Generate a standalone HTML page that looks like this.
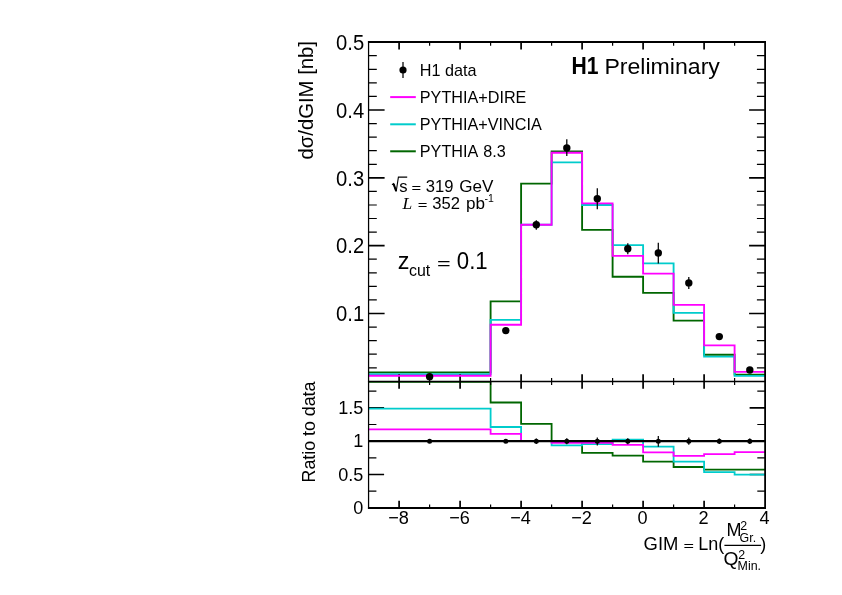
<!DOCTYPE html>
<html lang="en"><head><meta charset="utf-8"><title>H1 Preliminary - GIM</title>
<style>html,body{margin:0;padding:0;background:#fff}svg{display:block}text{font-family:"Liberation Sans",Arial,Helvetica,sans-serif;fill:#000}</style>
</head><body>
<svg width="842" height="595" viewBox="0 0 842 595">
<rect width="842" height="595" fill="#fff"/>
<g fill="none" stroke-width="1.85" stroke-linejoin="miter">
<path d="M368.6,372.3 L490.6,372.3 L490.6,301.4 L521.1,301.4 L521.1,183.6 L551.6,183.6 L551.6,151.3 L582.1,151.3 L582.1,229.8 L612.6,229.8 L612.6,276.7 L643.1,276.7 L643.1,292.8 L673.6,292.8 L673.6,320.6 L704.1,320.6 L704.1,354.7 L734.6,354.7 L734.6,374.6 L765.1,374.6" stroke="#006600"/>
<path d="M368.6,374.1 L490.6,374.1 L490.6,319.9 L521.1,319.9 L521.1,224.7 L551.6,224.7 L551.6,162.3 L582.1,162.3 L582.1,205.0 L612.6,205.0 L612.6,245.1 L643.1,245.1 L643.1,263.3 L673.6,263.3 L673.6,312.8 L704.1,312.8 L704.1,356.6 L734.6,356.6 L734.6,375.9 L765.1,375.9" stroke="#00cccc"/>
<path d="M399.1,42.0 L399.1,49.6 M399.1,374.3 L399.1,381.5 M460.1,42.0 L460.1,49.6 M460.1,374.3 L460.1,381.5 M521.1,42.0 L521.1,49.6 M521.1,374.3 L521.1,381.5 M582.1,42.0 L582.1,49.6 M582.1,374.3 L582.1,381.5 M643.1,42.0 L643.1,49.6 M643.1,374.3 L643.1,381.5 M704.1,42.0 L704.1,49.6 M704.1,374.3 L704.1,381.5 M368.6,313.5 L384.6,313.5 M749.1,313.5 L765.1,313.5 M368.6,245.7 L384.6,245.7 M749.1,245.7 L765.1,245.7 M368.6,177.8 L384.6,177.8 M749.1,177.8 L765.1,177.8 M368.6,110.0 L384.6,110.0 M749.1,110.0 L765.1,110.0" stroke="#000" stroke-width="1.7" fill="none"/><path d="M429.6,42.0 L429.6,45.8 M429.6,378.1 L429.6,381.5 M490.6,42.0 L490.6,45.8 M490.6,378.1 L490.6,381.5 M551.6,42.0 L551.6,45.8 M551.6,378.1 L551.6,381.5 M612.6,42.0 L612.6,45.8 M612.6,378.1 L612.6,381.5 M673.6,42.0 L673.6,45.8 M673.6,378.1 L673.6,381.5 M734.6,42.0 L734.6,45.8 M734.6,378.1 L734.6,381.5 M368.6,367.8 L376.8,367.8 M756.9,367.8 L765.1,367.8 M368.6,354.2 L376.8,354.2 M756.9,354.2 L765.1,354.2 M368.6,340.6 L376.8,340.6 M756.9,340.6 L765.1,340.6 M368.6,327.1 L376.8,327.1 M756.9,327.1 L765.1,327.1 M368.6,299.9 L376.8,299.9 M756.9,299.9 L765.1,299.9 M368.6,286.4 L376.8,286.4 M756.9,286.4 L765.1,286.4 M368.6,272.8 L376.8,272.8 M756.9,272.8 L765.1,272.8 M368.6,259.2 L376.8,259.2 M756.9,259.2 L765.1,259.2 M368.6,232.1 L376.8,232.1 M756.9,232.1 L765.1,232.1 M368.6,218.5 L376.8,218.5 M756.9,218.5 L765.1,218.5 M368.6,205.0 L376.8,205.0 M756.9,205.0 L765.1,205.0 M368.6,191.4 L376.8,191.4 M756.9,191.4 L765.1,191.4 M368.6,164.3 L376.8,164.3 M756.9,164.3 L765.1,164.3 M368.6,150.7 L376.8,150.7 M756.9,150.7 L765.1,150.7 M368.6,137.1 L376.8,137.1 M756.9,137.1 L765.1,137.1 M368.6,123.6 L376.8,123.6 M756.9,123.6 L765.1,123.6 M368.6,96.4 L376.8,96.4 M756.9,96.4 L765.1,96.4 M368.6,82.9 L376.8,82.9 M756.9,82.9 L765.1,82.9 M368.6,69.3 L376.8,69.3 M756.9,69.3 L765.1,69.3 M368.6,55.7 L376.8,55.7 M756.9,55.7 L765.1,55.7" stroke="#000" stroke-width="1.2" fill="none"/>
<path d="M368.6,375.7 L490.6,375.7 L490.6,324.7 L521.1,324.7 L521.1,224.7 L551.6,224.7 L551.6,152.7 L582.1,152.7 L582.1,203.4 L612.6,203.4 L612.6,255.8 L643.1,255.8 L643.1,273.6 L673.6,273.6 L673.6,304.8 L704.1,304.8 L704.1,345.3 L734.6,345.3 L734.6,371.8 L765.1,371.8" stroke="#ff00ff"/>
</g>
<clipPath id="lc"><rect x="368.6" y="381.5" width="396.5" height="126.5"/></clipPath>
<path d="M368.6,474.5 L384.1,474.5 M749.6,474.5 L765.1,474.5 M368.6,441.2 L384.1,441.2 M749.6,441.2 L765.1,441.2 M368.6,407.8 L384.1,407.8 M749.6,407.8 L765.1,407.8" stroke="#000" stroke-width="1.7" fill="none"/><path d="M368.6,491.2 L376.4,491.2 M757.3,491.2 L765.1,491.2 M368.6,457.9 L376.4,457.9 M757.3,457.9 L765.1,457.9 M368.6,424.5 L376.4,424.5 M757.3,424.5 L765.1,424.5 M368.6,391.2 L376.4,391.2 M757.3,391.2 L765.1,391.2" stroke="#000" stroke-width="1.2" fill="none"/>
<g fill="none" stroke-width="1.8" clip-path="url(#lc)">
<path d="M368.6,381.8 L490.6,381.8 L490.6,402.5 L521.1,402.5 L521.1,423.8 L551.6,423.8 L551.6,441.2 L582.1,441.2 L582.1,452.8 L612.6,452.8 L612.6,455.6 L643.1,455.6 L643.1,461.7 L673.6,461.7 L673.6,467.0 L704.1,467.0 L704.1,469.6 L734.6,469.6 L734.6,469.6 L765.1,469.6" stroke="#006600"/>
<path d="M368.6,408.6 L490.6,408.6 L490.6,427.0 L521.1,427.0 L521.1,441.0 L551.6,441.0 L551.6,445.4 L582.1,445.4 L582.1,444.2 L612.6,444.2 L612.6,439.7 L643.1,439.7 L643.1,446.7 L673.6,446.7 L673.6,461.7 L704.1,461.7 L704.1,472.2 L734.6,472.2 L734.6,474.7 L765.1,474.7" stroke="#00cccc"/>
<path d="M368.6,429.4 L490.6,429.4 L490.6,433.8 L521.1,433.8 L521.1,441.2 L551.6,441.2 L551.6,442.8 L582.1,442.8 L582.1,442.8 L612.6,442.8 L612.6,444.9 L643.1,444.9 L643.1,452.3 L673.6,452.3 L673.6,455.9 L704.1,455.9 L704.1,454.2 L734.6,454.2 L734.6,452.1 L765.1,452.1" stroke="#ff00ff"/>
</g>
<path d="M399.1,381.5 L399.1,388.7 M399.1,500.8 L399.1,508.0 M460.1,381.5 L460.1,388.7 M460.1,500.8 L460.1,508.0 M521.1,381.5 L521.1,388.7 M521.1,500.8 L521.1,508.0 M582.1,381.5 L582.1,388.7 M582.1,500.8 L582.1,508.0 M643.1,381.5 L643.1,388.7 M643.1,500.8 L643.1,508.0 M704.1,381.5 L704.1,388.7 M704.1,500.8 L704.1,508.0" stroke="#000" stroke-width="1.7" fill="none"/><path d="M429.6,381.5 L429.6,384.9 M429.6,504.6 L429.6,508.0 M490.6,381.5 L490.6,384.9 M490.6,504.6 L490.6,508.0 M551.6,381.5 L551.6,384.9 M551.6,504.6 L551.6,508.0 M612.6,381.5 L612.6,384.9 M612.6,504.6 L612.6,508.0 M673.6,381.5 L673.6,384.9 M673.6,504.6 L673.6,508.0 M734.6,381.5 L734.6,384.9 M734.6,504.6 L734.6,508.0" stroke="#000" stroke-width="1.2" fill="none"/>
<line x1="368.6" y1="441.2" x2="765.1" y2="441.2" stroke="#000" stroke-width="2.2"/>
<g stroke="#000" fill="none">
<line x1="368.57" y1="41" x2="368.57" y2="509" stroke-width="1.25"/>
<line x1="765.10" y1="41" x2="765.10" y2="509" stroke-width="1.8"/>
<line x1="367.95" y1="41.95" x2="766" y2="41.95" stroke-width="1.85"/>
<line x1="367.95" y1="508.00" x2="766" y2="508.00" stroke-width="1.9"/>
<line x1="367.95" y1="381.50" x2="766" y2="381.50" stroke-width="1.4"/>
</g>
<g stroke="#000" stroke-width="1.25" fill="#000">
<line x1="536.3" y1="220.2" x2="536.3" y2="229.8"/>
<line x1="566.8" y1="139.2" x2="566.8" y2="155.9"/>
<line x1="597.3" y1="188.2" x2="597.3" y2="209.2"/>
<line x1="627.8" y1="243.2" x2="627.8" y2="254.3"/>
<line x1="658.3" y1="242.8" x2="658.3" y2="263.5"/>
<line x1="688.8" y1="277.0" x2="688.8" y2="288.9"/>
<circle cx="429.6" cy="376.7" r="3.7" stroke="none"/>
<circle cx="505.8" cy="330.6" r="3.7" stroke="none"/>
<circle cx="536.3" cy="224.7" r="3.7" stroke="none"/>
<circle cx="566.8" cy="147.9" r="3.7" stroke="none"/>
<circle cx="597.3" cy="198.8" r="3.7" stroke="none"/>
<circle cx="627.8" cy="248.8" r="3.7" stroke="none"/>
<circle cx="658.3" cy="253.0" r="3.7" stroke="none"/>
<circle cx="688.8" cy="282.9" r="3.7" stroke="none"/>
<circle cx="719.3" cy="336.6" r="3.7" stroke="none"/>
<circle cx="749.8" cy="370.0" r="3.7" stroke="none"/>
<circle cx="429.6" cy="441.2" r="2.5" stroke="none"/>
<circle cx="505.8" cy="441.2" r="2.5" stroke="none"/>
<line x1="536.3" y1="438.4" x2="536.3" y2="444.0" stroke-width="1.2"/>
<circle cx="536.3" cy="441.2" r="2.5" stroke="none"/>
<line x1="566.8" y1="438.2" x2="566.8" y2="444.2" stroke-width="1.2"/>
<circle cx="566.8" cy="441.2" r="2.5" stroke="none"/>
<line x1="597.3" y1="437.4" x2="597.3" y2="445.6" stroke-width="1.2"/>
<circle cx="597.3" cy="441.2" r="2.5" stroke="none"/>
<line x1="627.8" y1="438.2" x2="627.8" y2="444.2" stroke-width="1.2"/>
<circle cx="627.8" cy="441.2" r="2.5" stroke="none"/>
<line x1="658.3" y1="436.0" x2="658.3" y2="446.8" stroke-width="1.2"/>
<circle cx="658.3" cy="441.2" r="2.5" stroke="none"/>
<line x1="688.8" y1="437.6" x2="688.8" y2="444.8" stroke-width="1.2"/>
<circle cx="688.8" cy="441.2" r="2.5" stroke="none"/>
<line x1="719.3" y1="438.4" x2="719.3" y2="444.0" stroke-width="1.2"/>
<circle cx="719.3" cy="441.2" r="2.5" stroke="none"/>
<line x1="749.8" y1="438.4" x2="749.8" y2="444.0" stroke-width="1.2"/>
<circle cx="749.8" cy="441.2" r="2.5" stroke="none"/>
</g>
<text transform="translate(364.2,49.9) scale(0.940,1.000)" font-size="21.5px" text-anchor="end">0.5</text>
<text transform="translate(364.2,117.7) scale(0.940,1.000)" font-size="21.5px" text-anchor="end">0.4</text>
<text transform="translate(364.2,185.5) scale(0.940,1.000)" font-size="21.5px" text-anchor="end">0.3</text>
<text transform="translate(364.2,253.4) scale(0.940,1.000)" font-size="21.5px" text-anchor="end">0.2</text>
<text transform="translate(364.2,321.2) scale(0.940,1.000)" font-size="21.5px" text-anchor="end">0.1</text>
<text transform="translate(363.3,414.0) scale(0.950,1.000)" font-size="19.0px" text-anchor="end">1.5</text>
<text transform="translate(363.3,447.4) scale(0.950,1.000)" font-size="19.0px" text-anchor="end">1</text>
<text transform="translate(363.3,480.7) scale(0.950,1.000)" font-size="19.0px" text-anchor="end">0.5</text>
<text transform="translate(363.3,514.1) scale(0.950,1.000)" font-size="19.0px" text-anchor="end">0</text>
<text transform="translate(398.5,524.2) scale(0.960,1.000)" font-size="18.9px" text-anchor="middle">−8</text>
<text transform="translate(459.5,524.2) scale(0.960,1.000)" font-size="18.9px" text-anchor="middle">−6</text>
<text transform="translate(520.5,524.2) scale(0.960,1.000)" font-size="18.9px" text-anchor="middle">−4</text>
<text transform="translate(581.5,524.2) scale(0.960,1.000)" font-size="18.9px" text-anchor="middle">−2</text>
<text transform="translate(642.5,524.2) scale(0.960,1.000)" font-size="18.9px" text-anchor="middle">0</text>
<text transform="translate(703.5,524.2) scale(0.960,1.000)" font-size="18.9px" text-anchor="middle">2</text>
<text transform="translate(764.5,524.2) scale(0.960,1.000)" font-size="18.9px" text-anchor="middle">4</text>
<text font-size="20.6px" text-anchor="end" transform="translate(312.9,41.0) rotate(-90) scale(0.985,1)">dσ/dGIM [nb]</text>
<text font-size="18.6px" text-anchor="end" transform="translate(314.5,381.6) rotate(-90) scale(0.957,1)">Ratio to data</text>
<g stroke="#000" fill="#000"><line x1="403" y1="61.9" x2="403" y2="77.9" stroke-width="1.25"/><circle cx="403" cy="70" r="3.6" stroke="none"/></g>
<g stroke-width="2" fill="none"><line x1="390.2" y1="97.1" x2="415.8" y2="97.1" stroke="#ff00ff"/><line x1="390.2" y1="124.3" x2="415.8" y2="124.3" stroke="#00cccc"/><line x1="390.2" y1="151.3" x2="415.8" y2="151.3" stroke="#006600"/></g>
<g font-size="16.2px">
<text x="419.8" y="75.8">H1 data</text>
<text x="419.8" y="102.9">PYTHIA+DIRE</text>
<text x="419.8" y="130.1">PYTHIA+VINCIA</text>
<text x="419.8" y="157.1" word-spacing="1.4px">PYTHIA 8.3</text>
</g>
<text transform="translate(571.6,74.2) scale(0.920,1.000)" font-size="23.0px" font-weight="bold">H1</text>
<text transform="translate(604.4,74.2) scale(1.018,1.000)" font-size="22.7px">Preliminary</text>
<path d="M392.0,184.8 L393.5,183.7 L396.2,191.5 L398.4,177.1 L407.2,177.1" stroke="#000" stroke-width="1.1" fill="none"/>
<path d="M393.6,183.9 L396.1,191.0" stroke="#000" stroke-width="2" fill="none"/>
<text x="399.3" y="191.6" font-size="16.6px">s</text>
<text transform="translate(411.4,191.7) scale(1.000,0.720)" font-size="16.6px">=</text>
<text x="425.8" y="191.6" font-size="16.6px">319</text>
<text transform="translate(459.2,191.6) scale(1.030,1.000)" font-size="16.6px">GeV</text>
<text x="402.4" y="208.6" style="font-family:'Liberation Serif','Times New Roman',serif;font-style:italic;font-size:17.5px">L</text>
<text transform="translate(417.7,208.7) scale(1.000,0.720)" font-size="16.6px">=</text>
<text x="432.2" y="208.6" font-size="16.6px">352</text>
<text transform="translate(466.0,208.6) scale(1.030,1.000)" font-size="16.6px">pb</text>
<text x="484.6" y="201.9" font-size="10.5px">-1</text>
<text x="397.8" y="268.9" font-size="23.4px">z</text>
<text transform="translate(409.0,275.6) scale(0.985,1.000)" font-size="16.2px">cut</text>
<text transform="translate(437.0,269.0) scale(1.000,0.680)" font-size="23.4px">=</text>
<text transform="translate(456.8,268.9) scale(0.950,1.000)" font-size="23.4px">0.1</text>
<g font-size="18px">
<text transform="translate(643.6,549.8) scale(1.025,1)">GIM</text>
<text transform="translate(683.4,549.9) scale(1,0.72)">=</text>
<text x="698.2" y="549.8">Ln(</text>
<text x="726.6" y="535.7">M</text>
<text transform="translate(723.5,564.6) scale(1.07,1)">Q</text>
<text x="760.2" y="549.8">)</text>
</g>
<g font-size="12.4px">
<text x="740.2" y="530.4">2</text>
<text x="739.6" y="541.8">Gr.</text>
<text x="738.3" y="559.3">2</text>
<text x="737.6" y="570.3">Min.</text>
</g>
<line x1="724.4" y1="545.4" x2="761.1" y2="545.4" stroke="#000" stroke-width="1.2"/>
</svg>
</body></html>
